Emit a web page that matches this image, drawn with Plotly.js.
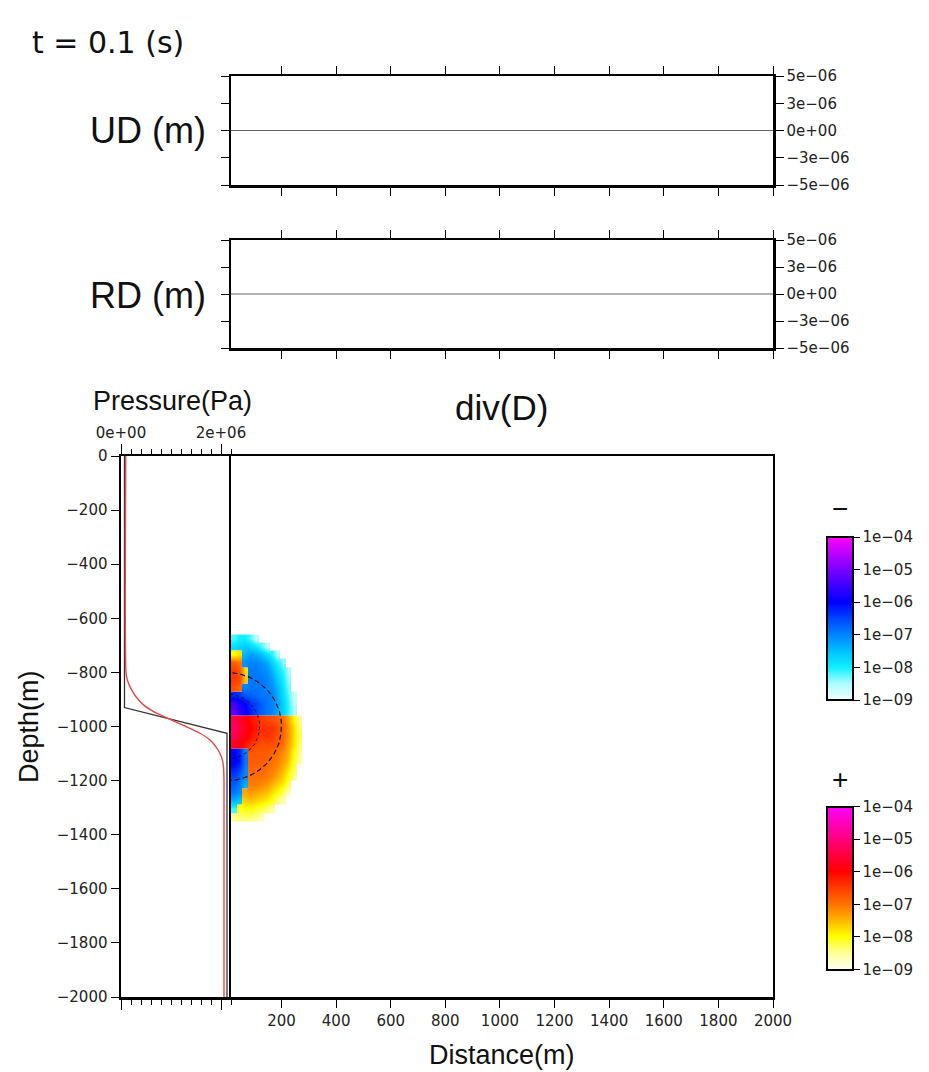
<!DOCTYPE html>
<html>
<head>
<meta charset="utf-8">
<script src="https://cdn.plot.ly/plotly-3.0.1.min.js"></script>
<style>
  html, body { margin: 0; padding: 0; background: #ffffff; }
  #chart { width: 929px; height: 1072px; }
</style>
</head>
<body>
<div id="chart"></div>
<script>
// ---- surface displacement records (m) along the free surface ----
const stationDistance = [0, 200, 400, 600, 800, 1000, 1200, 1400, 1600, 1800, 2000];
const udValues = [0, 0, 0, 0, 0, 0, 0, 0, 0, 0, 0];
const rdValues = [0, 0, 0, 0, 0, 0, 0, 0, 0, 0, 0];
const dispTickVals = [5e-6, 2.5e-6, 0, -2.5e-6, -5e-6];
const dispTickText = ['5e\u221206', '3e\u221206', '0e+00', '\u22123e\u221206', '\u22125e\u221206'];

// ---- pressure profiles along the axis (Pa) ----
const profileDepthA = [0, -930, -1025, -2000];
const profilePressureA = [0.07e6, 0.07e6, 2.12e6, 2.12e6];
const profileDepthB = [0, -800, -830, -860, -890, -920, -950, -975, -1000, -1025, -1050, -1075, -1100, -1125, -1150, -1200, -2000];
const profilePressureB = [0.095e6, 0.1e6, 0.13e6, 0.2e6, 0.3e6, 0.45e6, 0.7e6, 1.0e6, 1.3e6, 1.58e6, 1.78e6, 1.9e6, 1.98e6, 2.03e6, 2.05e6, 2.06e6, 2.06e6];

// ---- div(D) field: signed log10 magnitude above 1e-09 (negative = compression) ----
const gridDistance = [25, 45, 65, 85, 105, 125, 145, 165, 185, 205, 225, 245, 265];
const gridDepth = [-675, -705, -735, -765, -795, -825, -855, -885, -915, -945, -975, -1005,
                   -1035, -1065, -1095, -1125, -1155, -1185, -1215, -1245, -1275, -1305, -1335];
const divLevel = [
  [-0.8, -1.0, -1.0, -0.8, -0.4, 0, 0, 0, 0, 0, 0, 0, 0],
  [-1.2, -1.3, -1.4, -1.3, -1.1, -0.8, -0.4, 0, 0, 0, 0, 0, 0],
  [1.0, 1.2, -1.6, -1.8, -1.7, -1.5, -1.2, -0.9, -0.5, 0, 0, 0, 0],
  [2.2, 2.0, -1.9, -2.0, -2.0, -1.9, -1.7, -1.3, -1.0, -0.6, 0, 0, 0],
  [2.5, 2.3, 1.2, -2.1, -2.1, -2.0, -1.9, -1.6, -1.2, -0.9, -0.5, 0, 0],
  [2.5, 2.4, 1.4, -2.1, -2.1, -2.1, -2.0, -1.8, -1.4, -1.0, -0.6, 0, 0],
  [2.3, 2.1, -2.0, -2.1, -2.1, -2.1, -2.0, -1.9, -1.6, -1.1, -0.7, 0, 0],
  [-2.7, -2.6, -2.4, -2.3, -2.2, -2.1, -2.1, -2.0, -1.7, -1.2, -0.8, -0.3, 0],
  [-3.6, -3.3, -3.0, -2.7, -2.5, -2.3, -2.1, -2.0, -1.8, -1.3, -0.9, -0.4, 0],
  [-3.8, -3.4, -3.1, -2.8, -2.5, -2.3, -2.1, -2.0, -1.7, -1.3, -0.9, -0.5, 0],
  [3.6, 3.4, 3.1, 2.9, 2.7, 2.5, 2.4, 2.3, 2.2, 2.0, 1.6, 1.0, 0.5],
  [3.8, 3.5, 3.2, 3.0, 2.8, 2.6, 2.6, 2.6, 2.4, 2.1, 1.7, 1.2, 0.6],
  [3.7, 3.4, 3.1, 2.9, 2.7, 2.5, 2.6, 2.5, 2.3, 2.1, 1.7, 1.2, 0.7],
  [3.3, 3.1, 2.8, 2.6, 2.4, 2.3, 2.3, 2.3, 2.2, 2.0, 1.6, 1.2, 0.6],
  [-3.0, -2.8, -2.0, 2.2, 2.2, 2.2, 2.2, 2.1, 2.0, 1.8, 1.5, 1.0, 0.5],
  [-3.1, -2.9, -2.1, 2.2, 2.2, 2.2, 2.1, 2.0, 1.9, 1.7, 1.4, 0.9, 0.4],
  [-2.8, -2.6, -2.0, 2.1, 2.1, 2.1, 2.0, 1.9, 1.8, 1.5, 1.2, 0.7, 0],
  [-2.5, -2.3, -1.9, 2.0, 2.0, 2.0, 1.9, 1.8, 1.6, 1.3, 1.0, 0.5, 0],
  [-2.3, -2.1, -1.6, 1.9, 1.9, 1.8, 1.7, 1.5, 1.3, 1.1, 0.7, 0, 0],
  [-2.1, -1.9, 1.6, 1.7, 1.6, 1.5, 1.4, 1.2, 1.0, 0.7, 0.3, 0, 0],
  [-1.6, -1.4, 1.3, 1.4, 1.3, 1.2, 1.1, 0.9, 0.6, 0.3, 0, 0, 0],
  [-0.8, 0.9, 1.0, 1.0, 0.9, 0.8, 0.6, 0.4, 0, 0, 0, 0, 0],
  [0.5, 0.6, 0.6, 0.6, 0.5, 0.3, 0, 0, 0, 0, 0, 0, 0]
];
const cbarTickVals = [0, 1, 2, 3, 4, 5];
const cbarTickText = ['1e\u221209', '1e\u221208', '1e\u221207', '1e\u221206', '1e\u221205', '1e\u221204'];

// ---- source outline ----
const chamberCenterDepth = -1000;
const chamberRadii = [200, 120];

const distanceTicks = [200, 400, 600, 800, 1000, 1200, 1400, 1600, 1800, 2000];

// ---- page geometry helpers (pixel -> paper) ----
const W = 929, H = 1072;
const px = v => v / W;
const py = v => 1 - v / H;

const negZ = divLevel.map(r => r.map(v => (v < 0 ? -v : null)));
const posZ = divLevel.map(r => r.map(v => (v > 0 ? v : null)));

function halfCircle(r) {
  const xs = [], ys = [];
  for (let a = -90; a <= 90; a += 2) {
    const t = a * Math.PI / 180;
    xs.push(r * Math.cos(t));
    ys.push(chamberCenterDepth + r * Math.sin(t));
  }
  return { xs, ys };
}
const outer = halfCircle(chamberRadii[0]);
const inner = halfCircle(chamberRadii[1]);

const tickFont = { family: 'DejaVu Sans, sans-serif', size: 15, color: '#222' };
const bigFont = s => ({ family: 'Liberation Sans, Arial, sans-serif', size: s, color: '#111' });

const negScale = [
  [0.0, '#f2ffff'], [0.1, '#aefcff'], [0.2, '#10f0ff'], [0.3, '#00c0ff'],
  [0.4, '#0084ff'], [0.5, '#0044ff'], [0.6, '#0000ff'], [0.8, '#7a00ff'], [1.0, '#ff00ff']
];
const posScale = [
  [0.0, '#fffff0'], [0.1, '#ffff98'], [0.2, '#ffff00'], [0.3, '#ffb400'],
  [0.4, '#ff7000'], [0.5, '#ff3a00'], [0.6, '#ff0000'], [0.8, '#ff0080'], [1.0, '#ff00ff']
];

const cbarCommon = {
  thickness: 26, thicknessmode: 'pixels', lenmode: 'fraction', len: 163 / H,
  x: px(827), xanchor: 'left', yanchor: 'middle', xpad: 0, ypad: 0,
  outlinewidth: 2, outlinecolor: '#000', borderwidth: 0,
  tickmode: 'array', tickvals: cbarTickVals, ticktext: cbarTickText,
  ticks: 'outside', ticklen: 6, tickcolor: '#000', tickfont: tickFont
};

const traces = [
  { x: stationDistance, y: udValues, xaxis: 'x', yaxis: 'y', type: 'scatter', mode: 'lines',
    line: { color: '#666', width: 1 }, hoverinfo: 'skip' },
  { x: stationDistance, y: rdValues, xaxis: 'x2', yaxis: 'y2', type: 'scatter', mode: 'lines',
    line: { color: '#666', width: 1 }, hoverinfo: 'skip' },
  { type: 'heatmap', x: gridDistance, y: gridDepth, z: negZ, xaxis: 'x3', yaxis: 'y3',
    zmin: 0, zmax: 5, colorscale: negScale, zsmooth: 'best',
    colorbar: Object.assign({ y: py(618.5) }, cbarCommon) },
  { type: 'heatmap', x: gridDistance, y: gridDepth, z: posZ, xaxis: 'x3', yaxis: 'y3',
    zmin: 0, zmax: 5, colorscale: posScale, zsmooth: 'best',
    colorbar: Object.assign({ y: py(888) }, cbarCommon) },
  { x: outer.xs, y: outer.ys, xaxis: 'x3', yaxis: 'y3', type: 'scatter', mode: 'lines',
    line: { color: '#111', width: 1.2, dash: '5px,3px' }, hoverinfo: 'skip' },
  { x: inner.xs, y: inner.ys, xaxis: 'x3', yaxis: 'y3', type: 'scatter', mode: 'lines',
    line: { color: '#111', width: 1, dash: 'dot' }, hoverinfo: 'skip' },
  { x: profilePressureA, y: profileDepthA, xaxis: 'x4', yaxis: 'y4', type: 'scatter', mode: 'lines',
    line: { color: '#333', width: 1.3 }, hoverinfo: 'skip' },
  { x: profilePressureB, y: profileDepthB, xaxis: 'x4', yaxis: 'y4', type: 'scatter', mode: 'lines',
    line: { color: '#f04545', width: 1.4, shape: 'spline', smoothing: 0.6 }, hoverinfo: 'skip' }
];

const frameAxis = {
  showline: true, linewidth: 2.5, linecolor: '#000', showgrid: false, zeroline: false,
  ticks: 'outside', tickcolor: '#000', tickwidth: 1, automargin: false
};

function dispY(domTop, domBottom, anchor) {
  return Object.assign({}, frameAxis, {
    domain: [py(domBottom), py(domTop)], range: [-5e-6, 5e-6], anchor: anchor,
    side: 'right', mirror: 'ticks', ticklen: 8, tickmode: 'array',
    tickvals: dispTickVals, ticktext: dispTickText, tickfont: tickFont
  });
}
function dispX(anchor) {
  return Object.assign({}, frameAxis, {
    domain: [px(231), px(773)], range: [15, 2000], anchor: anchor,
    mirror: 'ticks', ticklen: 8, tickmode: 'array', tickvals: distanceTicks, showticklabels: false
  });
}

const layout = {
  width: W, height: H,
  margin: { l: 0, r: 0, t: 0, b: 0 },
  paper_bgcolor: '#fff', plot_bgcolor: 'rgba(0,0,0,0)',
  showlegend: false,
  xaxis: dispX('y'),
  yaxis: dispY(76, 185, 'x'),
  xaxis2: dispX('y2'),
  yaxis2: dispY(240, 348, 'x2'),
  xaxis3: Object.assign({}, frameAxis, {
    domain: [px(231), px(773)], range: [15, 2000], anchor: 'y3',
    mirror: true, ticklen: 8, tickmode: 'array', tickvals: distanceTicks, tickfont: tickFont
  }),
  yaxis3: Object.assign({}, frameAxis, {
    domain: [py(997), py(456)], range: [-2000, 0], anchor: 'x3',
    mirror: true, ticks: '', showticklabels: false, linewidth: 2
  }),
  xaxis4: Object.assign({}, frameAxis, {
    domain: [px(121), px(231)], range: [0, 2.2e6], anchor: 'y4', side: 'top',
    mirror: 'ticks', ticklen: 10, tickmode: 'array', tickvals: [0, 2e6],
    ticktext: ['0e+00', '2e+06'], tickfont: tickFont,
    minor: { ticks: 'outside', ticklen: 5, tick0: 0, dtick: 2e5, tickcolor: '#000', tickwidth: 1 }
  }),
  yaxis4: Object.assign({}, frameAxis, {
    domain: [py(997), py(456)], range: [-2000, 0], anchor: 'x4',
    mirror: false, ticklen: 8, dtick: 200, tick0: 0, tickfont: tickFont
  }),
  annotations: [
    { text: 't = 0.1 (s)', x: px(30), y: py(42), xref: 'paper', yref: 'paper',
      xanchor: 'left', yanchor: 'middle', showarrow: false,
      font: { family: 'DejaVu Sans, sans-serif', size: 30, color: '#111' } },
    { text: 'UD (m)', x: px(208), y: py(131), xref: 'paper', yref: 'paper',
      xanchor: 'right', yanchor: 'middle', showarrow: false, font: bigFont(36) },
    { text: 'RD (m)', x: px(208), y: py(295), xref: 'paper', yref: 'paper',
      xanchor: 'right', yanchor: 'middle', showarrow: false, font: bigFont(36) },
    { text: 'Pressure(Pa)', x: px(91), y: py(401), xref: 'paper', yref: 'paper',
      xanchor: 'left', yanchor: 'middle', showarrow: false, font: bigFont(27) },
    { text: 'div(D)', x: px(501), y: py(407), xref: 'paper', yref: 'paper',
      xanchor: 'center', yanchor: 'middle', showarrow: false, font: bigFont(35) },
    { text: 'Depth(m)', x: px(29), y: py(727), xref: 'paper', yref: 'paper', textangle: -90,
      xanchor: 'center', yanchor: 'middle', showarrow: false, font: bigFont(27) },
    { text: 'Distance(m)', x: px(502), y: py(1055), xref: 'paper', yref: 'paper',
      xanchor: 'center', yanchor: 'middle', showarrow: false, font: bigFont(27) },
    { text: '\u2212', x: px(840), y: py(508), xref: 'paper', yref: 'paper',
      xanchor: 'center', yanchor: 'middle', showarrow: false, font: bigFont(28) },
    { text: '+', x: px(840), y: py(779), xref: 'paper', yref: 'paper',
      xanchor: 'center', yanchor: 'middle', showarrow: false, font: bigFont(28) }
  ]
};

Plotly.newPlot('chart', traces, layout, { staticPlot: true, displayModeBar: false });
</script>
</body>
</html>
